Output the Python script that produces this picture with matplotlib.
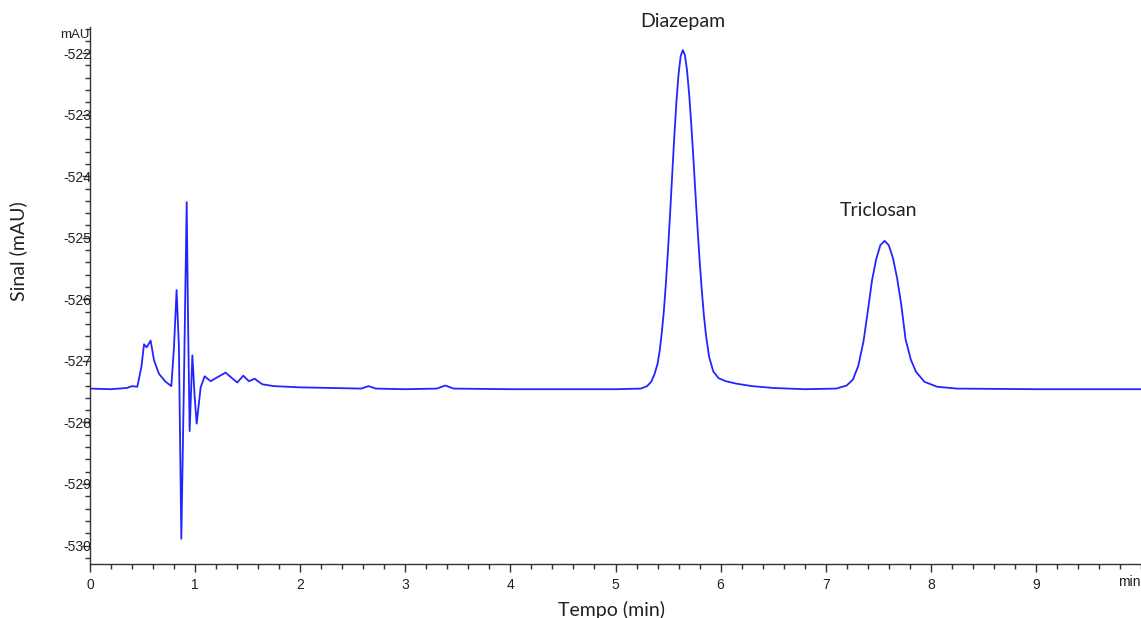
import matplotlib.pyplot as plt
from matplotlib.ticker import MultipleLocator

plt.rcParams['axes.unicode_minus'] = False

# chromatogram trace (time in min, signal in mAU)
t_front = [0.00, 0.20, 0.35, 0.40, 0.45, 0.489, 0.514, 0.539, 0.577, 0.609, 0.656, 0.72,
           0.774, 0.799, 0.824, 0.846, 0.869, 0.894, 0.920, 0.932, 0.948, 0.974, 0.996,
           1.015, 1.053, 1.091, 1.148, 1.218, 1.290, 1.344, 1.401, 1.459, 1.512, 1.566,
           1.639, 1.75]
v_front = [-527.45, -527.46, -527.44, -527.41, -527.42, -527.10, -526.73, -526.78, -526.67,
           -526.99, -527.21, -527.34, -527.41, -526.78, -525.85, -526.78, -529.89, -527.32,
           -524.42, -526.23, -528.14, -526.91, -527.59, -528.02, -527.43, -527.25, -527.33,
           -527.26, -527.19, -527.27, -527.35, -527.24, -527.33, -527.29, -527.38, -527.41]

t_base1 = [2.00, 2.30, 2.58, 2.65, 2.72, 3.00, 3.30, 3.38, 3.46, 4.00, 4.50, 5.00]
v_base1 = [-527.43, -527.44, -527.45, -527.41, -527.45, -527.46, -527.45, -527.40, -527.45,
           -527.46, -527.46, -527.46]

t_diaz = [5.24, 5.30, 5.34, 5.37, 5.40, 5.42, 5.44, 5.46, 5.48, 5.50, 5.52, 5.54, 5.56, 5.58,
          5.60, 5.62, 5.64, 5.66, 5.68, 5.70, 5.72, 5.74, 5.76, 5.78, 5.80, 5.82, 5.84, 5.86,
          5.89, 5.93, 5.98, 6.05, 6.15, 6.30, 6.50]
v_diaz = [-527.45, -527.41, -527.34, -527.22, -527.05, -526.84, -526.55, -526.19, -525.73,
          -525.19, -524.59, -523.96, -523.34, -522.78, -522.34, -522.05, -521.95, -522.03,
          -522.27, -522.65, -523.13, -523.68, -524.26, -524.83, -525.36, -525.83, -526.24,
          -526.57, -526.93, -527.17, -527.28, -527.33, -527.37, -527.41, -527.44]

t_base2 = [6.80]
v_base2 = [-527.46]

t_tric = [7.10, 7.20, 7.26, 7.31, 7.36, 7.40, 7.44, 7.48, 7.52, 7.56, 7.60, 7.64, 7.68, 7.72,
          7.76, 7.81, 7.86, 7.94, 8.06, 8.25]
v_tric = [-527.45, -527.40, -527.30, -527.08, -526.68, -526.20, -525.70, -525.35, -525.12,
          -525.05, -525.12, -525.33, -525.66, -526.10, -526.65, -526.98, -527.18, -527.34,
          -527.42, -527.45]

t_base3 = [9.00, 10.00]
v_base3 = [-527.46, -527.46]

time = t_front + t_base1 + t_diaz + t_base2 + t_tric + t_base3
signal = v_front + v_base1 + v_diaz + v_base2 + v_tric + v_base3

peak_names = ['Diazepam', 'Triclosan']
x_ticks = [0, 1, 2, 3, 4, 5, 6, 7, 8, 9]
y_ticks = [-522, -523, -524, -525, -526, -527, -528, -529, -530]

fig = plt.figure(figsize=(11.41, 6.18), dpi=100)
ax = fig.add_axes([90 / 1141, 1 - 564 / 618, 1051 / 1141, (564 - 26.7) / 618])

ax.plot(time, signal, color='#2424ff', lw=1.3)

ax.set_xlim(0, 10)
ax.set_ylim(-530.30, -521.57)
for s in ['top', 'right']:
    ax.spines[s].set_visible(False)
for s in ['left', 'bottom']:
    ax.spines[s].set_color('#333333')
    ax.spines[s].set_linewidth(1.0)

ax.set_xticks(x_ticks)
ax.set_yticks(y_ticks)
ax.xaxis.set_minor_locator(MultipleLocator(0.2))
ax.yaxis.set_minor_locator(MultipleLocator(0.2))
ax.tick_params(axis='both', which='major', length=6, width=1, color='#333333',
               labelsize=10, labelcolor='#222222')
ax.tick_params(axis='both', which='minor', length=3.5, width=1, color='#333333')
ax.tick_params(axis='y', which='major', pad=-7)
ax.tick_params(axis='x', which='major', pad=4)
for lab in ax.get_xticklabels() + ax.get_yticklabels():
    lab.set_fontfamily('Liberation Sans')

# unit labels at the axis ends
ax.text(0, -521.7, 'mAU', ha='right', va='center', fontsize=9.5, color='#222222',
        family='Liberation Sans', clip_on=False)
ax.text(9.995, -530.59, 'min', ha='right', va='center', fontsize=10, color='#222222',
        family='Liberation Sans', clip_on=False)

# peak labels
ax.text(5.64, -521.48, peak_names[0], ha='center', va='center', fontsize=14, family='Lato',
        color='#222222', clip_on=False)
ax.text(7.5, -524.55, peak_names[1], ha='center', va='center', fontsize=14, family='Lato',
        color='#222222')

fig.text(611 / 1141, 1 - 610 / 618, 'Tempo (min)', ha='center', va='center', fontsize=14,
         family='Lato', color='#222222')
fig.text(18 / 1141, 1 - 251 / 618, 'Sinal (mAU)', ha='center', va='center', fontsize=14,
         family='Lato', color='#222222', rotation=90)

fig.savefig('out.png', dpi=100)
